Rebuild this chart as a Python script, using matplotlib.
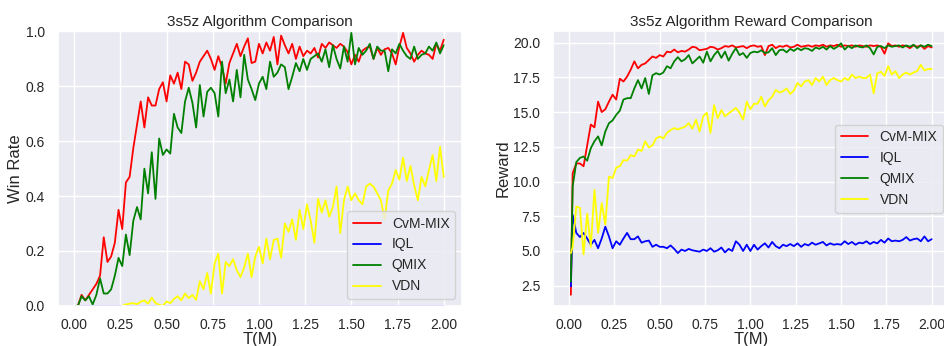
import matplotlib
matplotlib.use("Agg")
import matplotlib.pyplot as plt
import numpy as np
import seaborn as sns

sns.set_theme(style="darkgrid")
plt.rcParams["font.family"] = ["Liberation Sans", "DejaVu Sans"]

# training steps (millions), shared by both panels
T = np.r_[0.01, np.round(np.arange(1, 101) * 0.02, 2)]
VDN_START = 13   # VDN win-rate curve only begins around T=0.26

# ---- win rate ----
WIN_CVM = [0.00,
    0.00, 0.04, 0.02, 0.04, 0.06, 0.08, 0.11, 0.25, 0.16, 0.18,
    0.23, 0.35, 0.28, 0.45, 0.47, 0.575, 0.66, 0.745, 0.65, 0.76,
    0.73, 0.73, 0.79, 0.815, 0.745, 0.84, 0.81, 0.85, 0.79, 0.89,
    0.88, 0.82, 0.85, 0.89, 0.91, 0.93, 0.90, 0.86, 0.91, 0.87,
    0.81, 0.885, 0.92, 0.955, 0.91, 0.945, 0.975, 0.885, 0.89, 0.955,
    0.92, 0.96, 0.93, 0.98, 0.88, 0.985, 0.95, 0.92, 0.955, 0.90,
    0.945, 0.91, 0.93, 0.92, 0.94, 0.905, 0.955, 0.94, 0.96, 0.95,
    0.94, 0.955, 0.945, 0.925, 0.88, 0.915, 0.89, 0.93, 0.94, 0.945,
    0.90, 0.94, 0.915, 0.935, 0.94, 0.92, 0.88, 0.945, 0.995, 0.94,
    0.92, 0.89, 0.915, 0.93, 0.92, 0.915, 0.90, 0.955, 0.93, 0.97]
WIN_IQL = [0.0] * 101
WIN_QMIX = [0.00,
    0.00, 0.035, 0.02, 0.035, 0.005, 0.04, 0.10, 0.045, 0.045, 0.06,
    0.11, 0.175, 0.145, 0.26, 0.185, 0.31, 0.36, 0.315, 0.50, 0.41,
    0.56, 0.39, 0.61, 0.55, 0.57, 0.555, 0.70, 0.65, 0.63, 0.745,
    0.795, 0.74, 0.65, 0.805, 0.69, 0.78, 0.795, 0.775, 0.69, 0.89,
    0.775, 0.825, 0.745, 0.86, 0.76, 0.915, 0.825, 0.79, 0.75, 0.81,
    0.835, 0.79, 0.89, 0.835, 0.85, 0.88, 0.87, 0.79, 0.835, 0.885,
    0.855, 0.90, 0.86, 0.90, 0.91, 0.92, 0.89, 0.935, 0.87, 0.95,
    0.90, 0.865, 0.945, 0.89, 0.995, 0.88, 0.94, 0.915, 0.93, 0.955,
    0.90, 0.945, 0.93, 0.93, 0.855, 0.935, 0.92, 0.955, 0.93, 0.91,
    0.90, 0.945, 0.90, 0.915, 0.92, 0.945, 0.93, 0.96, 0.92, 0.95]
WIN_VDN = [
    0.00, 0.005, 0.008, 0.01, 0.006, 0.015, 0.02, 0.008,
    0.03, 0.01, 0.004, 0.00, 0.016, 0.01, 0.025, 0.035, 0.02, 0.045,
    0.028, 0.04, 0.022, 0.09, 0.06, 0.12, 0.045, 0.155, 0.19, 0.045,
    0.16, 0.145, 0.17, 0.13, 0.105, 0.14, 0.19, 0.105, 0.18, 0.215,
    0.155, 0.245, 0.17, 0.24, 0.245, 0.175, 0.30, 0.27, 0.315, 0.24,
    0.35, 0.28, 0.37, 0.31, 0.23, 0.39, 0.34, 0.385, 0.325, 0.36,
    0.435, 0.265, 0.385, 0.435, 0.385, 0.41, 0.385, 0.37, 0.435, 0.445,
    0.435, 0.41, 0.385, 0.315, 0.42, 0.445, 0.495, 0.46, 0.54, 0.455,
    0.51, 0.44, 0.385, 0.47, 0.435, 0.495, 0.55, 0.455, 0.58, 0.47]

# ---- reward ----
REW_CVM = [1.85,
    10.6, 11.3, 11.3, 11.1, 12.6, 14.1, 13.9, 15.75, 15.0, 15.2,
    15.75, 16.25, 15.9, 17.4, 17.2, 17.55, 18.05, 18.65, 18.15, 18.4,
    18.5, 18.75, 19.0, 18.9, 19.1, 19.0, 19.35, 19.3, 19.5, 19.3,
    19.4, 19.35, 19.5, 19.7, 19.65, 19.45, 19.5, 19.55, 19.7, 19.65,
    19.5, 19.6, 19.75, 19.7, 19.8, 19.65, 19.7, 19.75, 19.6, 19.75,
    19.8, 19.7, 19.75, 19.1, 19.75, 19.85, 19.6, 19.75, 19.7, 19.8,
    19.65, 19.7, 19.85, 19.7, 19.75, 19.8, 19.7, 19.8, 19.75, 19.85,
    19.7, 19.8, 19.75, 19.85, 19.7, 19.8, 19.75, 19.8, 19.7, 19.8,
    19.75, 19.7, 19.8, 19.75, 19.8, 19.7, 19.2, 19.95, 19.75, 19.8,
    19.7, 19.8, 19.75, 19.6, 19.8, 19.7, 19.8, 19.55, 19.75, 19.65]
REW_IQL = [2.45,
    7.6, 6.3, 6.0, 6.3, 5.9, 5.45, 5.8, 5.2, 5.9, 6.75,
    6.05, 5.2, 5.7, 5.45, 5.9, 6.3, 5.85, 5.85, 6.05, 5.6,
    5.7, 5.75, 5.3, 5.45, 5.3, 5.3, 5.2, 5.4, 5.15, 4.85,
    5.1, 5.0, 5.15, 5.05, 5.0, 4.95, 5.1, 5.0, 5.2, 4.95,
    5.05, 5.25, 4.9, 5.15, 5.0, 5.7, 5.45, 5.0, 5.45, 5.0,
    5.45, 5.1, 5.35, 5.55, 5.25, 5.65, 5.35, 5.2, 5.45, 5.35,
    5.5, 5.35, 5.55, 5.3, 5.5, 5.4, 5.6, 5.45, 5.55, 5.65,
    5.4, 5.55, 5.45, 5.5, 5.45, 5.7, 5.5, 5.65, 5.45, 5.6,
    5.55, 5.7, 5.5, 5.65, 5.55, 5.8, 5.6, 5.9, 5.7, 5.75,
    5.7, 5.8, 6.0, 5.75, 5.85, 5.9, 5.7, 6.05, 5.7, 5.85]
REW_QMIX = [2.8,
    9.65, 11.4, 11.7, 11.8, 11.5, 12.4, 12.9, 13.25, 12.6, 13.6,
    14.2, 14.4, 14.8, 15.1, 15.9, 16.0, 16.0, 16.7, 17.3, 16.7,
    17.45, 16.3, 17.65, 17.8, 17.7, 17.85, 18.3, 18.15, 18.65, 18.95,
    18.65, 18.8, 19.1, 18.5, 18.75, 19.0, 18.55, 19.35, 18.65, 19.1,
    19.4, 18.9, 19.35, 18.7, 19.2, 19.6, 19.1, 19.25, 18.9, 19.25,
    19.35, 19.3, 19.45, 19.25, 19.3, 19.6, 19.1, 19.45, 19.5, 19.3,
    19.55, 19.4, 19.6, 19.45, 19.6, 19.55, 19.4, 19.65, 19.55, 19.7,
    19.5, 19.75, 19.55, 19.7, 19.95, 19.5, 19.75, 19.6, 19.8, 19.7,
    19.65, 19.8, 19.6, 19.15, 19.7, 19.75, 19.6, 19.8, 19.7, 19.75,
    19.8, 19.65, 19.8, 19.7, 19.85, 19.6, 19.8, 19.7, 19.85, 19.75]
REW_VDN = [4.85,
    5.3, 8.2, 8.1, 4.75, 7.7, 5.3, 9.4, 6.3, 8.45, 6.9,
    10.35, 10.25, 11.0, 11.1, 11.55, 11.5, 11.9, 11.8, 12.3, 12.2,
    12.9, 12.45, 12.6, 13.1, 13.25, 13.1, 13.5, 13.7, 13.85, 13.75,
    13.85, 13.95, 14.2, 13.8, 14.45, 13.6, 14.7, 14.95, 13.5, 15.5,
    14.55, 15.15, 14.7, 14.9, 15.1, 15.3, 14.95, 14.45, 15.75, 15.2,
    15.6, 15.6, 16.1, 15.4, 15.85, 16.1, 16.6, 16.4, 16.5, 16.7,
    16.3, 16.55, 17.1, 16.85, 17.2, 17.3, 16.95, 17.45, 17.2, 17.55,
    16.95, 17.3, 17.45, 17.3, 17.2, 17.45, 17.3, 17.7, 17.45, 17.55,
    17.45, 17.45, 17.7, 16.35, 17.8, 17.9, 17.6, 18.3, 17.7, 17.95,
    17.45, 17.7, 17.85, 17.7, 17.85, 17.95, 18.4, 18.0, 18.1, 18.1]

LABELS = ["CvM-MIX", "IQL", "QMIX", "VDN"]
COLORS = ["red", "blue", "green", "yellow"]

fig = plt.figure(figsize=(9.45, 3.46), dpi=100)
ax1 = fig.add_axes([0.061, 0.116, 0.428, 0.793])
ax2 = fig.add_axes([0.585, 0.116, 0.42, 0.793])

win = [WIN_CVM, WIN_IQL, WIN_QMIX, WIN_VDN]
for i, (lab, c) in enumerate(zip(LABELS, COLORS)):
    x = T[VDN_START:] if lab == "VDN" else T
    ax1.plot(x, win[i], color=c, lw=1.3, label=lab)
ax1.set_xlim(T[0] - 0.0995, T[-1] + 0.0995)
ax1.set_ylim(0, 1.0)
ax1.set_title("3s5z Algorithm Comparison", fontsize=11, pad=4)
ax1.set_xlabel("T(M)", fontsize=12, labelpad=0)
ax1.set_ylabel("Win Rate", fontsize=12, labelpad=2)
ax1.legend(loc="lower right", fontsize=10)

rew = [REW_CVM, REW_IQL, REW_QMIX, REW_VDN]
for i, (lab, c) in enumerate(zip(LABELS, COLORS)):
    ax2.plot(T, rew[i], color=c, lw=1.3, label=lab)
ax2.set_title("3s5z Algorithm Reward Comparison", fontsize=11, pad=4)
ax2.set_xlabel("T(M)", fontsize=12, labelpad=0)
ax2.set_ylabel("Reward", fontsize=12, labelpad=2)
ax2.set_ylim(1.05, 20.8)
ax2.legend(loc="center right", fontsize=10)

for ax in (ax1, ax2):
    ax.tick_params(labelsize=10, pad=3)
    ax.set_xticks([0.0, 0.25, 0.5, 0.75, 1.0, 1.25, 1.5, 1.75, 2.0])

fig.savefig("out.png", dpi=100)
